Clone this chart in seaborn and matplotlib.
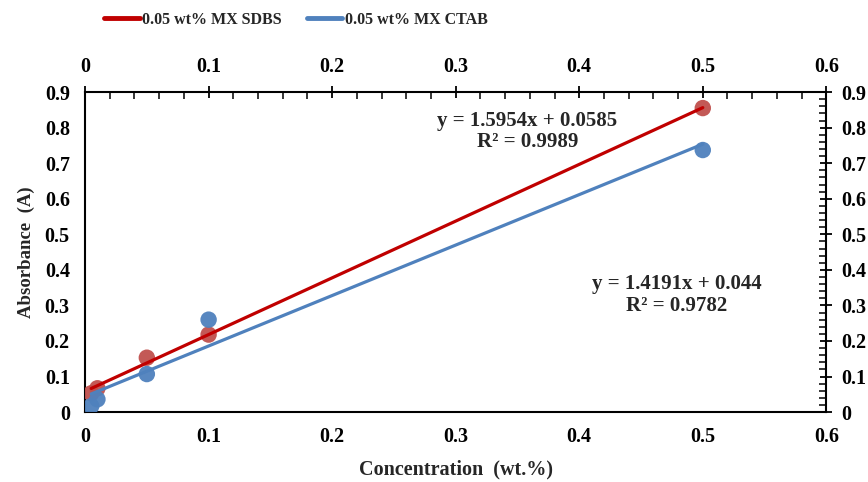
import numpy as np
import pandas as pd
import matplotlib
matplotlib.use("Agg")
import matplotlib.pyplot as plt
from matplotlib.ticker import MultipleLocator
import seaborn as sns

# ---- data ----
conc = [0.005, 0.01, 0.05, 0.1, 0.5]
abs_sdbs = [0.053, 0.067, 0.153, 0.218, 0.855]
abs_ctab = [0.017, 0.036, 0.107, 0.260, 0.737]
series_names = ["0.05 wt% MX SDBS", "0.05 wt% MX CTAB"]
slopes = [1.5954, 1.4191]
intercepts = [0.0585, 0.044]
eq_texts = ["y = 1.5954x + 0.0585\nR² = 0.9989", "y = 1.4191x + 0.044\nR² = 0.9782"]
x_ticks = [0, 0.1, 0.2, 0.3, 0.4, 0.5, 0.6]
y_ticks = [0, 0.1, 0.2, 0.3, 0.4, 0.5, 0.6, 0.7, 0.8, 0.9]

sns.set_theme(style="white")
plt.rcParams["font.family"] = ["Liberation Serif", "DejaVu Serif"]
plt.rcParams["font.weight"] = "bold"

line_colors = ["#C00000", "#4F81BD"]
point_colors = ["#C0504D", "#4F81BD"]

fig = plt.figure(figsize=(8.68, 4.82), dpi=100)
ax = fig.add_axes([0.098, 0.145, 0.854, 0.664])

pts = pd.DataFrame({
    "Concentration": conc * 2,
    "Absorbance": abs_sdbs + abs_ctab,
    "Series": [series_names[0]] * len(conc) + [series_names[1]] * len(conc),
})
sns.scatterplot(data=pts, x="Concentration", y="Absorbance", hue="Series",
                palette=dict(zip(series_names, point_colors)), s=140,
                edgecolor="none", alpha=0.95, legend=False, ax=ax, zorder=3)

xfit = np.array([min(conc), max(conc)])
fits = []
for name, m, b in zip(series_names, slopes, intercepts):
    fits.append(pd.DataFrame({"x": xfit, "y": m * xfit + b, "Series": name}))
fit_df = pd.concat(fits)
sns.lineplot(data=fit_df, x="x", y="y", hue="Series",
             palette=dict(zip(series_names, line_colors)), linewidth=2.3,
             ax=ax, zorder=4, legend=False)

ax.set_xlim(0, 0.6)
ax.set_ylim(0, 0.9)
ax.set_xticks(x_ticks)
ax.set_yticks(y_ticks)
ax.set_xticklabels([f"{t:g}" for t in x_ticks])
ax.set_yticklabels([f"{t:g}" for t in y_ticks])
ax.xaxis.set_minor_locator(MultipleLocator(0.02))
ax.yaxis.set_minor_locator(MultipleLocator(0.02))
ax.set_xlabel("Concentration  (wt.%)", fontsize=14.5, fontweight="bold", labelpad=9)
ax.set_ylabel("Absorbance  (A)", fontsize=13.5, fontweight="bold", labelpad=7)

for sp in ax.spines.values():
    sp.set_color("black")
    sp.set_linewidth(1.5)

ax.tick_params(which="major", direction="inout", length=8, width=1.3,
               labelsize=14.5, colors="black", top=True, right=True)
ax.tick_params(axis="x", which="major", pad=7, labeltop=True, labelbottom=True)
ax.tick_params(axis="y", which="major", pad=7, labelleft=True, labelright=True)
ax.tick_params(which="minor", direction="in", length=5, width=1.1,
               top=True, right=True, colors="black")
for lab in ax.get_xticklabels() + ax.get_yticklabels():
    lab.set_fontweight("bold")

ax.text(0.358, 0.789, eq_texts[0], fontsize=15, fontweight="bold",
        ha="center", va="center", linespacing=1.1)
ax.text(0.479, 0.330, eq_texts[1], fontsize=15, fontweight="bold",
        ha="center", va="center", linespacing=1.1)

handles = [plt.Line2D([], [], color=c, linewidth=3.5) for c in line_colors]
fig.legend(handles, series_names, loc="center left",
           bbox_to_anchor=(98 / 868, 1 - 20 / 482), ncol=2, frameon=False,
           prop={"weight": "bold", "size": 11.5}, handlelength=2.2,
           handletextpad=0.15, columnspacing=1.6, borderaxespad=0)

fig.savefig("out.png", dpi=100)
